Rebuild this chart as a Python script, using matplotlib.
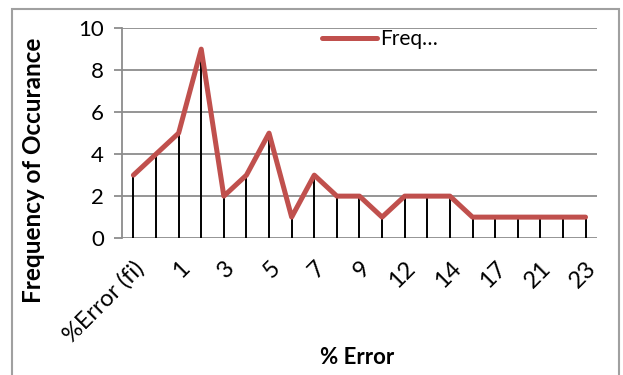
import numpy as np
import matplotlib
matplotlib.use("Agg")
import matplotlib.pyplot as plt
from matplotlib.patches import Rectangle

plt.rcParams['font.family'] = ['Lato', 'DejaVu Sans']

# categories on the x axis (only every other one is labelled in the chart)
categories = ["%Error (fi)", "0", "1", "2", "3", "4", "5", "6", "7", "8", "9",
              "10", "12", "13", "14", "16", "17", "19", "21", "22", "23"]
freq = [3, 4, 5, 9, 2, 3, 5, 1, 3, 2, 2, 1, 2, 2, 2, 1, 1, 1, 1, 1, 1]
y_ticks = [0, 2, 4, 6, 8, 10]

fig = plt.figure(figsize=(6.23, 3.75), dpi=100)
ax = fig.add_axes([0.196, 0.365, 0.762, 0.56])

x = np.arange(len(categories))
ax.vlines(x, 0, freq, color='black', lw=1.4, zorder=2)
ax.plot(x, freq, color='#C0504D', lw=3.6, solid_capstyle='round',
        solid_joinstyle='round', label='Freq…', zorder=3)

ax.set_xlim(-0.5, len(categories) - 0.5)
ax.set_ylim(0, 10)
ax.set_yticks(y_ticks)
ax.grid(axis='y', color='#8c8c8c', lw=1.3)
ax.set_axisbelow(True)

ax.set_xticks(x[::2])
ax.set_xticklabels(categories[::2], rotation=45, ha='right',
                   rotation_mode='anchor', fontsize=17)
ax.tick_params(axis='x', length=0, pad=14)
ax.tick_params(axis='y', length=6, color='#8c8c8c', width=1.3, labelsize=16, pad=7)

for s in ['top', 'right', 'bottom']:
    ax.spines[s].set_visible(False)
ax.spines['left'].set_color('#8c8c8c')
ax.spines['left'].set_linewidth(1.3)

fig.text(34 / 623, 1 - 170 / 375, "Frequency of Occurance", rotation=90,
         ha='center', va='center', fontsize=17.5, fontweight='bold')
fig.text(357 / 623, 1 - 358 / 375, "% Error", ha='center', va='center',
         fontsize=16, fontweight='bold')

ax.legend(loc='center left', bbox_to_anchor=(0.40, 0.948), frameon=False,
          fontsize=15, handlelength=2.6, handletextpad=0.15, borderpad=0)

fig.patches.append(Rectangle((0.019, -0.1), 0.975, 1.076, transform=fig.transFigure,
                             fill=False, edgecolor='#a0a0a0', lw=1.5))

fig.savefig("out.png", dpi=100)
